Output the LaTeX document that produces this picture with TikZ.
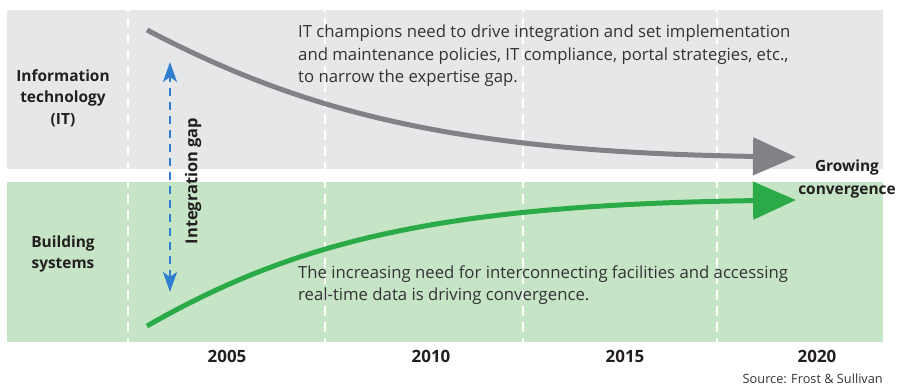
\documentclass[tikz,border=0pt]{standalone}
\usepackage{fontspec}
\setmainfont{Open Sans}
\usetikzlibrary{arrows.meta}
\definecolor{bandgray}{HTML}{E6E7E8}
\definecolor{bandgreen}{HTML}{C6E4C6}
\definecolor{itgray}{HTML}{808285}
\definecolor{bsgreen}{HTML}{2BAA48}
\definecolor{gapblue}{HTML}{2F7ED0}
\definecolor{ink}{HTML}{231F20}
\definecolor{bodyink}{HTML}{333335}
\tikzset{
  yeargrid/.style={white, line width=2.8bp, dash pattern=on 10bp off 6bp},
  rowlabel/.style={font=\fontsize{15.5}{21.5}\selectfont\bfseries, text=ink, align=center, inner sep=0pt},
  yearlabel/.style={font=\fontsize{17}{19}\selectfont\bfseries, text=ink, inner sep=0pt},
  bodytext/.style={font=\fontsize{16.8}{22.3}\selectfont, text=bodyink, align=left, anchor=north west, inner sep=0pt},
  trend/.style={line width=5bp, -{Triangle[length=43bp,width=37bp]}},
  gaparrow/.style={gapblue, line width=2bp, dash pattern=on 8bp off 6bp,
    {Stealth[length=20bp,width=14bp,inset=5bp]}-{Stealth[length=20bp,width=14bp,inset=5bp]}}
}
\begin{document}
\begin{tikzpicture}[x=1bp,y=-1bp]
\useasboundingbox (0,0) rectangle (901,388);

% background bands
\fill[bandgray] (7,10) rectangle (883,169);
\fill[bandgreen] (7,182) rectangle (883,342);

% dashed year dividers
\foreach \x in {128,325,523,717}
  \draw[yeargrid] (\x,2) -- (\x,342);

% row labels
\node[rowlabel] (itlabel) at (63,98) {Information\\technology\\(IT)};
\node[rowlabel] (bslabel) at (63,254) {Building\\systems};

% year labels
\node[yearlabel] (y2005) at (227,356) {2005};
\node[yearlabel] (y2010) at (431,356) {2010};
\node[yearlabel] (y2015) at (625,356) {2015};
\node[yearlabel] (y2020) at (817,356) {2020};

% source note
\node[font=\fontsize{12.8}{15}\selectfont, text=bodyink, anchor=east, inner sep=0pt] (source) at (883,379) {Source: Frost \& Sullivan};

% curve end points
\coordinate (itstart) at (147,30);
\coordinate (itend) at (796,157);
\coordinate (bsstart) at (147,326);
\coordinate (bsend) at (796,200);

% trend curves
\draw[trend, itgray] (itstart) .. controls (300,110) and (450,152) .. (itend);
\draw[trend, bsgreen] (bsstart) .. controls (300,238) and (450,205) .. (bsend);

% integration gap
\coordinate (gaptop) at (170,62);
\coordinate (gapbot) at (170,292);
\draw[gaparrow] (gapbot) -- (gaptop);
\node[font=\fontsize{16.5}{19}\selectfont\bfseries, text=ink, rotate=90, inner sep=0pt] (gaplabel) at (193,181) {Integration gap};

% convergence label
\node[font=\fontsize{15.5}{22.5}\selectfont\bfseries, text=ink, align=center, inner sep=0pt] (conv) at (847,179) {Growing\\convergence};

% explanatory texts
\node[bodytext] (ittext) at (298,25) {IT champions need to drive integration and set implementation\\and maintenance policies, IT compliance, portal strategies, etc.,\\to narrow the expertise gap.};
\node[bodytext] (bstext) at (298,265) {The increasing need for interconnecting facilities and accessing\\real-time data is driving convergence.};
\end{tikzpicture}
\end{document}
